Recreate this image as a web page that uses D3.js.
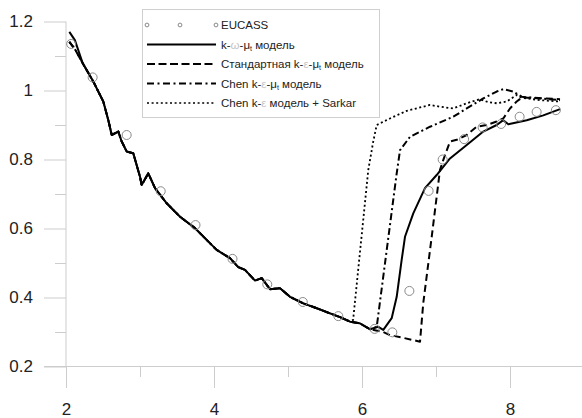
<!DOCTYPE html>
<html>
<head>
<meta charset="utf-8">
<script src="https://cdn.jsdelivr.net/npm/d3@7"></script>
<style>
  body { margin: 0; background: #fff; }
  svg { display: block; font-family: "Liberation Sans", Arial, sans-serif; }
</style>
</head>
<body>
<svg id="chart" width="582" height="418"></svg>
<script>
// experimental points (EUCASS)
const eucass = [[2.07,1.135],[2.36,1.038],[2.82,0.871],[3.28,0.708],[3.75,0.61],[4.25,0.512],
  [4.72,0.438],[5.2,0.387],[5.68,0.346],[6.17,0.309],[6.41,0.299],[6.64,0.419],[6.9,0.709],
  [7.09,0.8],[7.38,0.859],[7.63,0.893],[7.88,0.903],[8.13,0.924],[8.36,0.938],[8.62,0.943]];

// start of the curves (solid one starts a bit higher)
const headSolid = [[2.045,1.17],[2.12,1.146]];
const headOther = [[2.045,1.141],[2.12,1.12]];

// part that all models share
const common = [[2.226,1.079],[2.369,1.026],[2.504,0.968],[2.572,0.914],[2.618,0.871],[2.707,0.881],
  [2.753,0.852],[2.82,0.823],[2.909,0.818],[3.0,0.75],[3.023,0.726],[3.112,0.76],[3.203,0.717],
  [3.361,0.673],[3.541,0.634],[3.743,0.601],[3.901,0.567],[4.036,0.538],[4.216,0.514],[4.328,0.488],
  [4.419,0.48],[4.554,0.449],[4.645,0.456],[4.757,0.424],[4.892,0.427],[5.027,0.402],[5.207,0.383],
  [5.388,0.369],[5.568,0.354],[5.703,0.343],[5.838,0.33]];
const commonLate = [[5.973,0.325],[6.108,0.308]];

// tails, where the models separate
const tailSolid = [[6.22,0.315],[6.288,0.306],[6.401,0.34],[6.469,0.402],[6.536,0.509],[6.581,0.576],
  [6.693,0.644],[6.851,0.717],[7.009,0.755],[7.189,0.803],[7.415,0.842],[7.639,0.881],[7.82,0.9],
  [7.909,0.914],[7.977,0.902],[8.226,0.914],[8.45,0.928],[8.676,0.946]];
const tailDashed = [[6.288,0.3],[6.378,0.291],[6.558,0.283],[6.784,0.272],[6.828,0.384],[6.942,0.576],
  [7.054,0.77],[7.099,0.799],[7.189,0.852],[7.28,0.857],[7.415,0.871],[7.55,0.895],[7.685,0.9],
  [7.82,0.91],[7.909,0.919],[8.0,0.948],[8.09,0.968],[8.158,0.979],[8.315,0.979],[8.495,0.977],[8.676,0.975]];
const tailDashDot = [[6.199,0.315],[6.469,0.76],[6.514,0.827],[6.649,0.866],[6.919,0.895],[7.234,0.924],
  [7.415,0.948],[7.639,0.977],[7.82,0.997],[7.909,1.004],[8.045,0.997],[8.158,0.982],[8.405,0.977],[8.676,0.972]];
const tailDotted = [[5.88,0.335],[6.085,0.77],[6.15,0.85],[6.199,0.9],[6.378,0.919],[6.604,0.941],[6.919,0.958],
  [7.054,0.953],[7.234,0.948],[7.415,0.963],[7.595,0.975],[7.707,0.966],[7.82,0.963],[7.955,0.968],
  [8.09,0.987],[8.158,0.979],[8.405,0.972],[8.676,0.968]];

const yTicks = [0.2, 0.4, 0.6, 0.8, 1.0, 1.2];
const yMinor = [0.3, 0.5, 0.7, 0.9, 1.1];
const xTicks = [2, 4, 6, 8];
const xMinor = [3, 5, 7];

const series = [
  { name: "solid", data: headSolid.concat(common, commonLate, tailSolid), dash: null },
  { name: "dashed", data: headOther.concat(common, commonLate, tailDashed), dash: "7,4" },
  { name: "dashdot", data: headOther.concat(common, commonLate, tailDashDot), dash: "7,3,2,3" },
  { name: "dotted", data: headOther.concat(common, tailDotted), dash: "2,2.6" }
];

const svg = d3.select("#chart");
const x = d3.scaleLinear().domain([2, 9]).range([66, 584]);
const y = d3.scaleLinear().domain([0.2, 1.2]).range([366.5, 21.5]);
const gridCol = "#cdcdcd";

// y axis, major + minor ticks
const yAxis = svg.append("g").attr("transform", `translate(${x(2)},0)`)
  .call(d3.axisLeft(y).tickValues(yTicks).tickSize(22).tickPadding(11)
    .tickFormat(d => d === 1 ? "1" : d3.format(".1f")(d)));
svg.append("g").attr("transform", `translate(${x(2)},0)`)
  .call(d3.axisLeft(y).tickValues(yMinor).tickSize(11).tickFormat(""));

// x axis
const xAxis = svg.append("g").attr("transform", `translate(0,${y(0.2)})`)
  .call(d3.axisBottom(x).tickValues(xTicks).tickSize(21.5).tickPadding(15).tickFormat(d3.format("d")));
svg.append("g").attr("transform", `translate(0,${y(0.2)})`)
  .call(d3.axisBottom(x).tickValues(xMinor).tickSize(10.5).tickFormat(""));

svg.selectAll(".domain").remove();
svg.selectAll(".tick line").attr("stroke", gridCol);
svg.selectAll(".tick text").attr("fill", "#222").style("font-size", "17px")
  .style("font-family", "'Liberation Sans', Arial, sans-serif");

// axis lines
svg.append("line").attr("x1", x(2)).attr("x2", x(2)).attr("y1", y(1.2)).attr("y2", y(0.2))
  .attr("stroke", gridCol);
svg.append("line").attr("x1", x(2) - 22).attr("x2", 582).attr("y1", y(0.2)).attr("y2", y(0.2))
  .attr("stroke", gridCol);

// model curves
const line = d3.line().x(d => x(d[0])).y(d => y(d[1]));
svg.append("g").selectAll("path").data(series).enter().append("path")
  .attr("d", d => line(d.data))
  .attr("fill", "none")
  .attr("stroke", "#000")
  .attr("stroke-width", d => d.name === "dotted" ? 1.8 : 2)
  .attr("stroke-dasharray", d => d.dash)
  .attr("stroke-linejoin", "round");

// experiment
svg.append("g").selectAll("circle").data(eucass).enter().append("circle")
  .attr("cx", d => x(d[0])).attr("cy", d => y(d[1])).attr("r", 4.5)
  .attr("fill", "none").attr("stroke", "#8a8a8a").attr("stroke-width", 1);

// legend
const leg = svg.append("g");
leg.append("rect").attr("x", 142.5).attr("y", 9.5).attr("width", 237).attr("height", 108)
  .attr("fill", "#fff").attr("stroke", "#cfcfcf");

const rowY = [25, 44.5, 64, 83.5, 103];
[147, 180, 216].forEach(cx => {
  leg.append("circle").attr("cx", cx).attr("cy", rowY[0]).attr("r", 1.9)
    .attr("fill", "none").attr("stroke", "#8a8a8a");
});
series.forEach((s, i) => {
  leg.append("line").attr("x1", 147).attr("x2", 216).attr("y1", rowY[i + 1]).attr("y2", rowY[i + 1])
    .attr("stroke", "#000").attr("stroke-width", s.name === "dotted" ? 1.6 : 2)
    .attr("stroke-dasharray", s.name === "dashed" ? "8,3.5" : s.name === "dashdot" ? "7,3.5,2,3.5" : s.dash);
});

// legend labels: [text, isGreySymbol, isSubscript]
const labels = [
  [["EUCASS", 0, 0]],
  [["k-", 0, 0], ["ω", 1, 0], ["-μ", 0, 0], ["t", 0, 1], [" модель", 0, 0]],
  [["Стандартная k-", 0, 0], ["ε", 1, 0], ["-μ", 0, 0], ["t", 0, 1], [" модель", 0, 0]],
  [["Chen k-", 0, 0], ["ε", 1, 0], ["-μ", 0, 0], ["t", 0, 1], [" модель", 0, 0]],
  [["Chen k-", 0, 0], ["ε", 1, 0], [" модель + Sarkar", 0, 0]]
];
labels.forEach((parts, i) => {
  const t = leg.append("text").attr("x", 221).attr("y", rowY[i] + 4)
    .attr("fill", "#222").style("font-size", "11.5px");
  parts.forEach(p => {
    const ts = t.append("tspan").text(p[0]);
    if (p[1]) ts.attr("fill", "#c4c4c4");
    if (p[2]) ts.style("font-size", "7px").attr("dy", 2);
    else if (parts.length > 1 && t.selectAll("tspan").size() > 1) {
      const prev = parts[parts.indexOf(p) - 1];
      if (prev && prev[2]) ts.attr("dy", -2);
    }
  });
});
</script>
</body>
</html>
